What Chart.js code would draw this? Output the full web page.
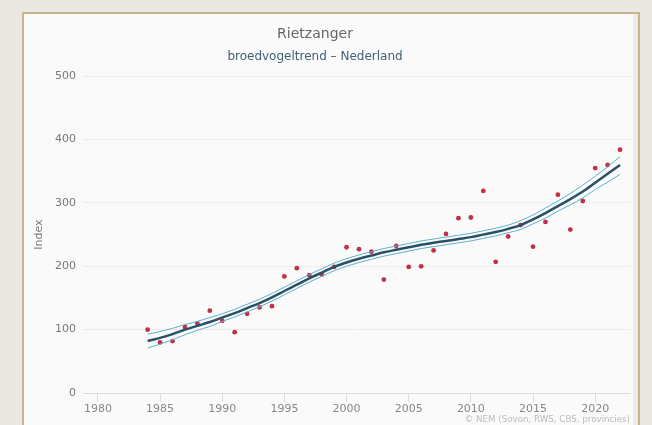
<!DOCTYPE html>
<html>
<head>
<meta charset="utf-8">
<script src="https://cdn.jsdelivr.net/npm/chart.js@4.4.1/dist/chart.umd.min.js"></script>
<style>
  html, body { margin: 0; padding: 0; }
  body { width: 652px; height: 425px; overflow: hidden; background: #ebe8e3; position: relative; }
  #frame {
    position: absolute; left: 22px; top: 12px; width: 614px; height: 430px;
    border: 2px solid #c9b48b; border-bottom: none;
    background: #fafafa; box-shadow: inset -5px 0 0 #ecebe7;
  }
  #chart { position: absolute; left: 0; top: 0; }
</style>
</head>
<body>
<div id="frame"></div>
<canvas id="chart" width="652" height="425"></canvas>
<script>
const years = [1984, 1985, 1986, 1987, 1988, 1989, 1990, 1991, 1992, 1993,
  1994, 1995, 1996, 1997, 1998, 1999, 2000, 2001, 2002, 2003,
  2004, 2005, 2006, 2007, 2008, 2009, 2010, 2011, 2012, 2013,
  2014, 2015, 2016, 2017, 2018, 2019, 2020, 2021, 2022];
const indexValues = [100, 80, 82, 104, 110, 130, 114, 96, 125, 135,
  137, 184, 197, 186, 187, 199, 230, 227, 223, 179,
  232, 199, 200, 225, 251, 276, 277, 319, 207, 247,
  265, 231, 270, 313, 258, 303, 355, 360, 384];
const trend = [82, 87, 93, 100, 106, 112, 119, 126, 134, 142,
  151, 161, 171, 181, 190, 199, 206, 212, 217, 222,
  226, 230, 234, 237, 240, 243, 246, 250, 254, 259,
  265, 274, 284, 295, 306, 318, 332, 346, 360];
const upper = [93, 97, 102, 108, 113, 119, 125, 132, 140, 148,
  157, 167, 177, 187, 196, 205, 212, 218, 223, 228,
  232, 236, 240, 243, 246, 249, 252, 256, 260, 265,
  272, 281, 292, 303, 315, 328, 342, 357, 373];
const lower = [71, 77, 84, 92, 99, 105, 113, 120, 128, 136,
  145, 155, 165, 175, 184, 193, 200, 206, 211, 216,
  220, 224, 228, 231, 234, 237, 240, 244, 248, 253,
  258, 267, 276, 287, 297, 308, 321, 333, 345];
const xTicks = [1980, 1985, 1990, 1995, 2000, 2005, 2010, 2015, 2020];
const yTicks = [0, 100, 200, 300, 400, 500];

const font = 'DejaVu Sans';

function pts(vals) {
  return years.map((y, i) => ({ x: y, y: vals[i] }));
}

const bandStyle = {
  borderColor: '#5ab2c9',
  borderWidth: 1,
  pointRadius: 0,
  fill: false,
  cubicInterpolationMode: 'monotone'
};

new Chart(document.getElementById('chart'), {
  type: 'line',
  data: {
    datasets: [
      {
        label: 'trend',
        data: pts(trend),
        borderColor: '#2a5068',
        borderWidth: 2.5,
        pointRadius: 0,
        fill: false,
        cubicInterpolationMode: 'monotone'
      },
      Object.assign({ label: 'upper', data: pts(upper) }, bandStyle),
      Object.assign({ label: 'lower', data: pts(lower) }, bandStyle),
      {
        label: 'index',
        data: pts(indexValues),
        showLine: false,
        pointRadius: 2.4,
        pointBackgroundColor: '#c23048',
        pointBorderWidth: 0
      }
    ]
  },
  options: {
    responsive: false,
    animation: false,
    devicePixelRatio: 1,
    layout: { padding: { left: 0, right: 22, top: 0, bottom: 0 } },
    plugins: {
      legend: { display: false },
      tooltip: { enabled: false },
      title: {
        display: true,
        text: 'Rietzanger',
        color: '#666',
        font: { family: font, size: 14, weight: 'normal' },
        padding: { top: 26, bottom: 7 }
      },
      subtitle: {
        display: true,
        text: 'broedvogeltrend \u2013 Nederland',
        color: '#3d6176',
        font: { family: font, size: 12, weight: 'normal' },
        padding: { top: 0, bottom: 12 }
      }
    },
    scales: {
      x: {
        type: 'linear',
        min: 1978.8,
        max: 2022.8,
        afterBuildTicks: s => { s.ticks = xTicks.map(v => ({ value: v })); },
        afterFit: s => { s.height = 32; },
        grid: { drawOnChartArea: false, drawTicks: true, tickLength: 9, color: '#dddddd' },
        border: { display: true, color: '#dddddd' },
        ticks: {
          color: '#888',
          font: { family: font, size: 11 },
          padding: 1,
          maxRotation: 0,
          callback: v => String(v)
        },
        title: {
          display: true,
          align: 'end',
          text: '\u00a9 NEM (Sovon, RWS, CBS, provincies)',
          color: '#bbb',
          font: { family: font, size: 8.7 },
          padding: { top: 0, bottom: 0 }
        }
      },
      y: {
        min: 0,
        max: 500,
        afterBuildTicks: s => { s.ticks = yTicks.map(v => ({ value: v })); },
        afterFit: s => { s.width = 83; },
        grid: { color: '#ececec', drawTicks: false },
        border: { display: false },
        ticks: {
          color: '#777',
          font: { family: font, size: 11 },
          padding: 7
        },
        title: {
          display: true,
          text: 'Index',
          color: '#777',
          font: { family: font, size: 11 },
          padding: { top: 33, bottom: 0 }
        }
      }
    }
  }
});
</script>
</body>
</html>
